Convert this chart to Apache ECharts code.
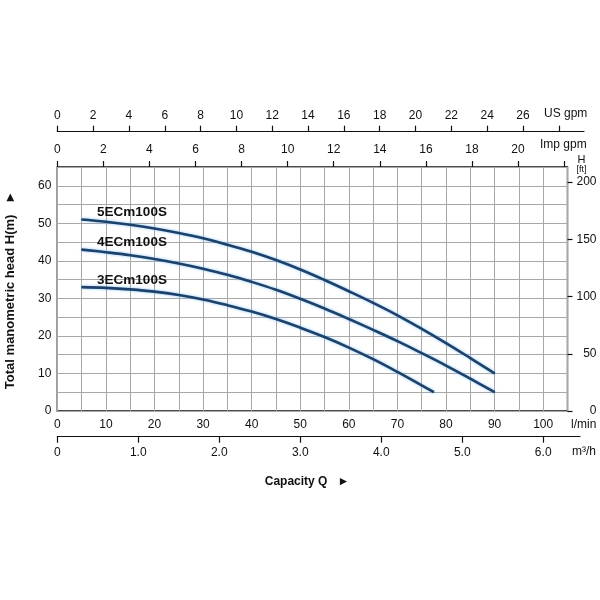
<!DOCTYPE html>
<html>
<head>
<meta charset="utf-8">
<script src="https://cdn.jsdelivr.net/npm/echarts@6/dist/echarts.min.js"></script>
<style>html,body{margin:0;padding:0;background:#fff}#c{width:600px;height:600px}</style>
</head>
<body>
<div id="c"></div>
<script>
// Flow Q in l/min, head H in m
var names = ['5ECm100S', '4ECm100S', '3ECm100S'];
var q5 = [5, 10, 15, 20, 25, 30, 35, 40, 45, 50, 55, 60, 65, 70, 75, 80, 85, 90];
var h5 = [51, 50.4, 49.6, 48.6, 47.4, 46, 44.3, 42.4, 40.2, 37.7, 34.9, 31.9, 28.8, 25.5, 21.9, 18.1, 14.1, 10];
var q4 = [5, 10, 15, 20, 25, 30, 35, 40, 45, 50, 55, 60, 65, 70, 75, 80, 85, 90];
var h4 = [43, 42.3, 41.5, 40.5, 39.3, 37.9, 36.3, 34.4, 32.3, 29.9, 27.3, 24.5, 21.6, 18.6, 15.4, 12.1, 8.6, 5];
var q3 = [5, 10, 15, 20, 25, 30, 35, 40, 45, 50, 55, 60, 65, 70, 75, 77.5];
var h3 = [33, 32.8, 32.4, 31.8, 30.9, 29.7, 28.2, 26.5, 24.5, 22.2, 19.7, 16.9, 13.8, 10.4, 6.8, 5];

var lminTicks = [0, 10, 20, 30, 40, 50, 60, 70, 80, 90, 100];
var m3hTicks = [0, 1, 2, 3, 4, 5, 6];
var usTicks = [0, 2, 4, 6, 8, 10, 12, 14, 16, 18, 20, 22, 24, 26, 28];
var usLabels = [0, 2, 4, 6, 8, 10, 12, 14, 16, 18, 20, 22, 24, 26];
var impTicks = [0, 2, 4, 6, 8, 10, 12, 14, 16, 18, 20, 22];
var impLabels = [0, 2, 4, 6, 8, 10, 12, 14, 16, 18, 20];
var mTicks = [0, 10, 20, 30, 40, 50, 60];
var ftTicks = [0, 50, 100, 150, 200];

var QMAX = 105, HMAX = 65;
var LEFT = 57.3, RIGHT_X = 567.5, TOP = 167, BOTTOM_Y = 411;
var PX_PER_LMIN = (RIGHT_X - LEFT) / QMAX;
// axis conversions
var LMIN_PER_M3H = 16.667, LMIN_PER_US = 3.686, LMIN_PER_IMP = 4.741;

var font = 'Liberation Sans, Arial, sans-serif';
var txt = '#111';
var curveColor = '#1d4169';

function mkSeries(name, qs, hs) {
  return {
    type: 'line', name: name, xAxisIndex: 0, yAxisIndex: 0,
    smooth: 0.4, showSymbol: true, symbol: 'circle', symbolSize: 1,
    lineStyle: { color: curveColor, width: 2.6, shadowColor: 'rgba(120,190,245,0.9)', shadowBlur: 3 },
    itemStyle: { color: curveColor },
    data: qs.map(function (q, i) {
      var d = { value: [q, hs[i]] };
      if (i === 0) {
        d.label = { show: true, formatter: name, position: 'right', distance: 5, offset: [10, -7],
          fontFamily: font, fontWeight: 'bold', fontSize: 13.5, color: txt, opacity: 1 };
      }
      return d;
    }),
    z: 5
  };
}

var chart = echarts.init(document.getElementById('c'), null, { renderer: 'canvas' });
var lineExt = 580;
var usExt = 584;
chart.setOption({
  animation: false,
  backgroundColor: '#fff',
  grid: [
    { left: LEFT, right: 600 - RIGHT_X, top: TOP, bottom: 600 - BOTTOM_Y, show: true, borderColor: '#111', borderWidth: 1.4, backgroundColor: 'transparent' },
    { left: LEFT, right: 600 - usExt, top: 131.7, height: 1 },
    { left: LEFT, right: 600 - lineExt, top: 435.7, height: 1 }
  ],
  xAxis: [
    { type: 'value', gridIndex: 0, position: 'bottom', min: 0, max: QMAX, interval: 5,
      axisLine: { show: false, onZero: false }, axisTick: { show: false },
      axisLabel: { customValues: lminTicks, margin: 8, fontFamily: font, fontSize: 12, color: txt },
      splitLine: { show: true, lineStyle: { color: '#a8a8a8', width: 1 } } },
    { type: 'value', gridIndex: 0, position: 'top', min: 0, max: QMAX / LMIN_PER_IMP,
      axisLine: { show: false, onZero: false },
      axisTick: { show: true, customValues: impTicks, length: 6, lineStyle: { color: '#111', width: 1.2 } },
      axisLabel: { customValues: impLabels, margin: 11, fontFamily: font, fontSize: 12, color: txt },
      splitLine: { show: false } },
    { type: 'value', gridIndex: 1, position: 'top', min: 0, max: (usExt - LEFT) / PX_PER_LMIN / LMIN_PER_US,
      axisLine: { show: true, onZero: false, lineStyle: { color: '#111', width: 1.2 } },
      axisTick: { show: true, customValues: usTicks, length: 6, lineStyle: { color: '#111', width: 1.2 } },
      axisLabel: { customValues: usLabels, margin: 10, fontFamily: font, fontSize: 12, color: txt },
      splitLine: { show: false } },
    { type: 'value', gridIndex: 2, position: 'bottom', min: 0, max: (lineExt - LEFT) / PX_PER_LMIN / LMIN_PER_M3H,
      axisLine: { show: true, onZero: false, lineStyle: { color: '#111', width: 1.2 } },
      axisTick: { show: true, customValues: m3hTicks, length: 6, lineStyle: { color: '#111', width: 1.2 } },
      axisLabel: { customValues: m3hTicks, margin: 10, fontFamily: font, fontSize: 12, color: txt,
        formatter: function (v) { return v === 0 ? '0' : v.toFixed(1); } },
      splitLine: { show: false } }
  ],
  yAxis: [
    { type: 'value', gridIndex: 0, position: 'left', min: 0, max: HMAX, interval: 5,
      axisLine: { show: false, onZero: false }, axisTick: { show: false },
      axisLabel: { customValues: mTicks, margin: 6, fontFamily: font, fontSize: 12, color: txt },
      splitLine: { show: true, lineStyle: { color: '#a8a8a8', width: 1 } } },
    { type: 'value', gridIndex: 0, position: 'right', min: 0, max: HMAX * 3.28084,
      axisLine: { show: false, onZero: false },
      axisTick: { show: true, customValues: ftTicks, length: 5, lineStyle: { color: '#111', width: 1.2 } },
      axisLabel: { customValues: ftTicks, margin: 29, align: 'right', fontFamily: font, fontSize: 12, color: txt },
      splitLine: { show: false } },
    { type: 'value', gridIndex: 1, show: false },
    { type: 'value', gridIndex: 2, show: false }
  ],
  series: [
    mkSeries(names[0], q5, h5),
    mkSeries(names[1], q4, h4),
    mkSeries(names[2], q3, h3)
  ],
  graphic: [
    { type: 'text', left: 544, top: 108, style: { text: 'US gpm', font: '12px ' + font, fill: txt } },
    { type: 'text', left: 540, top: 139, style: { text: 'Imp gpm', font: '12px ' + font, fill: txt } },
    { type: 'text', x: 581.5, y: 160, style: { text: 'H', font: '11px ' + font, fill: txt, align: 'center', verticalAlign: 'middle' } },
    { type: 'text', x: 581.5, y: 169.5, style: { text: '[ft]', font: '9px ' + font, fill: txt, align: 'center', verticalAlign: 'middle' } },
    { type: 'text', x: 571, y: 425, style: { text: 'l/min', font: '12px ' + font, fill: txt, align: 'left', verticalAlign: 'middle' } },
    { type: 'text', x: 572, y: 452, style: { text: 'm³/h', font: '12px ' + font, fill: txt, align: 'left', verticalAlign: 'middle' } },
    { type: 'text', x: 307, y: 482, style: { text: 'Capacity Q   ►', font: 'bold 12px ' + font, fill: txt, align: 'center', verticalAlign: 'middle' } },
    { type: 'text', x: 10, y: 290, rotation: Math.PI / 2, style: { text: 'Total manometric head H(m)   ►', font: 'bold 13px ' + font, fill: txt, align: 'center', verticalAlign: 'middle' } }
  ]
});
</script>
</body>
</html>
